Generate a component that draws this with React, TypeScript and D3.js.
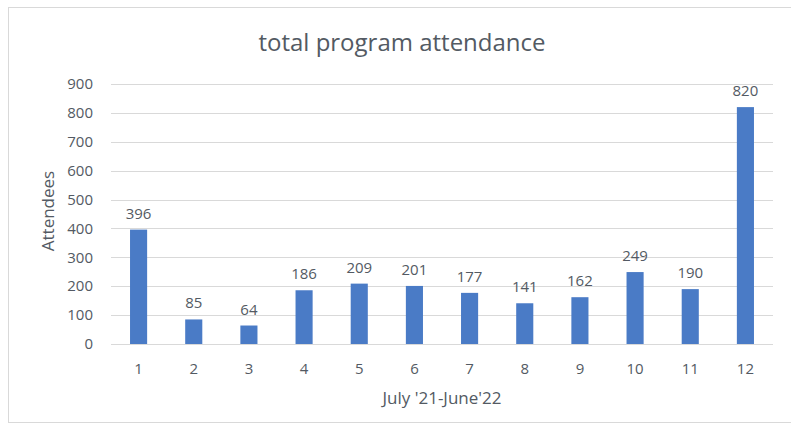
import React from "react";
import * as d3 from "d3";

const categories = ["1", "2", "3", "4", "5", "6", "7", "8", "9", "10", "11", "12"];
const attendance = [396, 85, 64, 186, 209, 201, 177, 141, 162, 249, 190, 820];
const yTicks = [0, 100, 200, 300, 400, 500, 600, 700, 800, 900];

const W = 791;
const H = 431;
const plotLeft = 111;
const plotRight = 773;
const plotTop = 84;
const plotBottom = 344;
const font = "'Open Sans', 'Noto Sans', sans-serif";
const textColor = "#535a63";

export default function App() {
  const x = d3.scaleBand<string>().domain(categories).range([plotLeft, plotRight]).paddingInner(0.69).paddingOuter(0.345);
  const y = d3.scaleLinear().domain([0, 900]).range([plotBottom, plotTop]);
  return (
    <svg width={W} height={H} style={{ position: "absolute", left: 0, top: 0 }}>
      <rect x={0} y={0} width={W} height={H} fill="#fff" />
      <rect x={8.5} y={7.5} width={W} height={415} fill="#fff" stroke="#d9d9d9" strokeWidth={1} />
      <text x={402} y={51} textAnchor="middle" fontFamily={font} fontSize={24} fill={textColor}>
        total program attendance
      </text>
      {yTicks.map((t) => (
        <g key={t}>
          <line x1={plotLeft} x2={plotRight} y1={Math.round(y(t)) + 0.5} y2={Math.round(y(t)) + 0.5} stroke="#d9d9d9" strokeWidth={1} />
          <text x={93} y={y(t)} dy="0.35em" textAnchor="end" fontFamily={font} fontSize={15} fill={textColor}>
            {t}
          </text>
        </g>
      ))}
      {categories.map((c, i) => (
        <g key={c}>
          <rect x={x(c)!} y={y(attendance[i])} width={x.bandwidth()} height={plotBottom - y(attendance[i])} fill="#4a7bc6" />
          <text x={x(c)! + x.bandwidth() / 2} y={y(attendance[i]) - 11} textAnchor="middle" fontFamily={font} fontSize={15} fill={textColor}>
            {attendance[i]}
          </text>
          <text x={x(c)! + x.bandwidth() / 2} y={374} textAnchor="middle" fontFamily={font} fontSize={15} fill={textColor}>
            {c}
          </text>
        </g>
      ))}
      <text transform={`translate(54,${(plotTop + plotBottom) / 2 - 3}) rotate(-90)`} textAnchor="middle" fontFamily={font} fontSize={17} fill={textColor}>
        Attendees
      </text>
      <text x={442} y={404} textAnchor="middle" fontFamily={font} fontSize={17} fill={textColor}>
        July '21-June'22
      </text>
    </svg>
  );
}
